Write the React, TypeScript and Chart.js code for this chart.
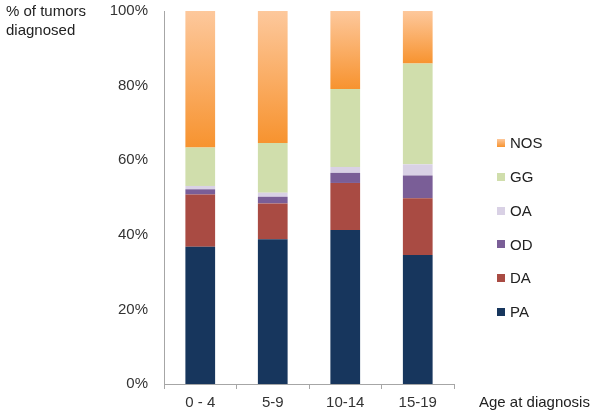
import { useEffect, useRef } from "react";
import { Chart, registerables } from "chart.js";
Chart.register(...registerables);

const categories = ["0 - 4", "5-9", "10-14", "15-19"];
const PA = [36.8, 38.8, 41.3, 34.6];
const DA = [14.0, 9.6, 12.6, 15.2];
const OD = [1.4, 1.8, 2.7, 6.1];
const OA = [0.9, 1.1, 1.6, 3.0];
const GG = [10.3, 13.3, 20.9, 27.0];
const NOS = [36.6, 35.4, 20.9, 14.1];
const yMax = 100;
const yStep = 20;
const yTitle = ["% of tumors", "diagnosed"];
const xTitle = "Age at diagnosis";

const FONT = "'Liberation Sans', Arial, sans-serif";

function nosGradient(ctx: any, top: number, bottom: number) {
  const g = ctx.createLinearGradient(0, top, 0, bottom);
  g.addColorStop(0, "#FDC89C");
  g.addColorStop(1, "#F7932F");
  return g;
}

const overlayPlugin = {
  id: "overlay",
  afterDraw(chart: any) {
    const ctx = chart.ctx;
    ctx.save();
    ctx.font = `15px ${FONT}`;
    ctx.fillStyle = "#222";
    ctx.textBaseline = "middle";
    ctx.textAlign = "left";
    ctx.fillText(yTitle[0], 6, 12);
    ctx.fillText(yTitle[1], 6, 31);
    ctx.fillText(xTitle, 479, 403);
    // legend
    const ds = chart.data.datasets;
    const startY = 144;
    const step = 33.8;
    for (let k = 0; k < ds.length; k++) {
      const d = ds[ds.length - 1 - k];
      const cy = startY + k * step;
      const bx = 497;
      const by = Math.round(cy - 5);
      if (d.label === "NOS") {
        ctx.fillStyle = nosGradient(ctx, by, by + 8);
      } else {
        ctx.fillStyle = d.legendColor;
      }
      ctx.fillRect(bx, by, 8, 8);
      ctx.fillStyle = "#222";
      ctx.fillText(d.label, 510, cy);
    }
    ctx.restore();
  },
};

export default function App() {
  const ref = useRef<HTMLCanvasElement>(null);
  useEffect(() => {
    if (!ref.current) return;
    const mk = (label: string, data: number[], color: any, legendColor: string) => ({
      label,
      data,
      backgroundColor: color,
      legendColor,
      borderWidth: 0,
      categoryPercentage: 1,
      barPercentage: 0.41,
    });
    const nosColor = (c: any) => {
      const chart = c.chart;
      const y = chart.scales && chart.scales.y;
      if (!y || c.dataIndex === undefined) return "#F9A550";
      const i = c.dataIndex;
      const base = yMax - NOS[i];
      const t = y.getPixelForValue(yMax);
      const b = y.getPixelForValue(base);
      if (!isFinite(t) || !isFinite(b)) return "#F9A550";
      return nosGradient(chart.ctx, t, b);
    };
    const chart = new Chart(ref.current, {
      type: "bar",
      data: {
        labels: categories,
        datasets: [
          mk("PA", PA, "#17365D", "#17365D"),
          mk("DA", DA, "#A94B43", "#A94B43"),
          mk("OD", OD, "#7A5E97", "#7A5E97"),
          mk("OA", OA, "#D9D1E5", "#D9D1E5"),
          mk("GG", GG, "#D0DEAC", "#D0DEAC"),
          mk("NOS", NOS, nosColor, "#F9A550"),
        ] as any,
      },
      options: {
        animation: false,
        responsive: false,
        devicePixelRatio: 1,
        layout: { padding: { top: 11, right: 150, left: 0, bottom: 0 } },
        plugins: { legend: { display: false }, tooltip: { enabled: false } },
        scales: {
          x: {
            stacked: true,
            afterFit: (s: any) => { s.height = 32; s.paddingLeft = 0; s.paddingRight = 0; },
            grid: {
              offset: true,
              drawOnChartArea: false,
              drawTicks: true,
              tickLength: 5,
              color: "#A6A6A6",
            },
            border: { color: "#A6A6A6", width: 1 },
            ticks: { color: "#333", font: { size: 15, family: FONT }, padding: 5, maxRotation: 0 },
          },
          y: {
            stacked: true,
            min: 0,
            max: yMax,
            afterFit: (s: any) => { s.width = 164; s.paddingTop = 0; s.paddingBottom = 0; },
            grid: { display: false, drawTicks: false },
            border: { color: "#A6A6A6", width: 1 },
            ticks: {
              stepSize: yStep,
              color: "#333",
              font: { size: 15, family: FONT },
              padding: 16,
              callback: (v: any) => `${v}%`,
            },
          },
        },
      },
      plugins: [overlayPlugin],
    });
    return () => chart.destroy();
  }, []);
  return (
    <div style={{ position: "fixed", left: 0, top: 0, width: 604, height: 416, background: "#fff" }}>
      <canvas ref={ref} width={604} height={416} style={{ width: 604, height: 416, display: "block" }} />
    </div>
  );
}
